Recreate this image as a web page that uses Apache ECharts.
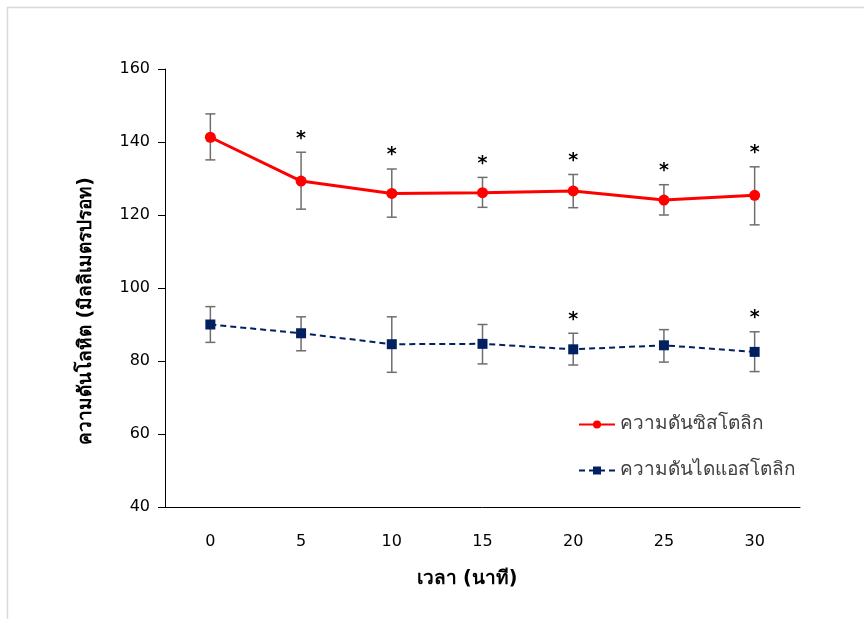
<!DOCTYPE html>
<html>
<head>
<meta charset="utf-8">
<script src="https://cdn.jsdelivr.net/npm/echarts@6/dist/echarts.min.js"></script>
<style>html,body{margin:0;padding:0;background:#fff}#c{width:864px;height:619px}</style>
</head>
<body>
<div id="c"></div>
<script>
const categories = ['0','5','10','15','20','25','30'];
const systolic = [141.3, 129.3, 125.9, 126.1, 126.6, 124.1, 125.4];
const systolicHigh = [147.7, 137.2, 132.6, 130.3, 131.1, 128.3, 133.2];
const systolicLow = [135.1, 121.6, 119.4, 122.1, 122.0, 120.0, 117.3];
const systolicSig = [0, 1, 1, 1, 1, 1, 1];
const diastolic = [90.0, 87.6, 84.6, 84.7, 83.2, 84.3, 82.5];
const diastolicHigh = [94.9, 92.1, 92.1, 90.0, 87.6, 88.6, 88.0];
const diastolicLow = [85.1, 82.8, 76.9, 79.2, 78.9, 79.7, 77.1];
const diastolicSig = [0, 0, 0, 0, 1, 0, 1];
const yTicks = [40, 60, 80, 100, 120, 140, 160];
const seriesNames = ['ความดันซิสโตลิก', 'ความดันไดแอสโตลิก'];
const xTitle = 'เวลา (นาที)';
const yTitle = 'ความดันโลหิต (มิลลิเมตรปรอท)';

const FONT = "'DejaVu Sans', Tahoma, 'Noto Sans', sans-serif";

function errData(high, low, sig) {
  return categories.map((c, i) => [i, low[i], high[i], sig[i]]);
}
function errRender(params, api) {
  const x = api.value(0);
  const lo = api.coord([x, api.value(1)]);
  const hi = api.coord([x, api.value(2)]);
  const cap = 5;
  const style = { stroke: '#6e6e6e', lineWidth: 1.5 };
  const children = [
    { type: 'line', shape: { x1: hi[0], y1: hi[1], x2: lo[0], y2: lo[1] }, style },
    { type: 'line', shape: { x1: hi[0] - cap, y1: hi[1], x2: hi[0] + cap, y2: hi[1] }, style },
    { type: 'line', shape: { x1: lo[0] - cap, y1: lo[1], x2: lo[0] + cap, y2: lo[1] }, style }
  ];
  if (api.value(3)) {
    children.push({ type: 'text', style: { text: '*', x: hi[0], y: hi[1] - 4, textAlign: 'center', textVerticalAlign: 'bottom', fontSize: 19, fontWeight: 'bold', fill: '#000', fontFamily: 'DejaVu Sans' } });
  }
  return { type: 'group', children };
}

const chart = echarts.init(document.getElementById('c'));
chart.setOption({
  backgroundColor: '#fff',
  animation: false,
  graphic: [
    { type: 'rect', shape: { x: 7.5, y: 7.5, width: 900, height: 700 }, style: { fill: 'none', stroke: '#d9d9d9', lineWidth: 1.5 }, silent: true },
    { type: 'text', x: 467, y: 579, style: { text: xTitle, textAlign: 'center', textVerticalAlign: 'middle', fontSize: 19, fontWeight: 'bold', fill: '#000', fontFamily: FONT } },
    { type: 'text', x: 86, y: 311, rotation: Math.PI / 2, style: { text: yTitle, textAlign: 'center', textVerticalAlign: 'middle', fontSize: 19, fontWeight: 'bold', fill: '#000', fontFamily: FONT } }
  ],
  grid: { left: 165, right: 64, top: 69, bottom: 112 },
  legend: {
    orient: 'vertical', left: 573, top: 410, itemGap: 27, itemWidth: 36, itemHeight: 10,
    textStyle: { fontSize: 19, color: '#404040', fontFamily: FONT },
    data: seriesNames
  },
  xAxis: {
    type: 'category', data: categories, boundaryGap: true,
    axisLine: { lineStyle: { color: '#000', width: 1 } },
    axisTick: { alignWithLabel: true, length: 6, lineStyle: { color: '#000' } },
    axisLabel: { fontSize: 16, color: '#000', margin: 27, fontFamily: FONT }
  },
  yAxis: {
    type: 'value', min: 40, max: 160, interval: 20,
    axisLine: { show: true, lineStyle: { color: '#000', width: 1 } },
    axisTick: { show: true, length: 7, lineStyle: { color: '#000' } },
    splitLine: { show: false },
    axisLabel: { fontSize: 16, color: '#000', margin: 15, fontFamily: FONT,
      formatter: v => yTicks.includes(v) ? String(v) : '' }
  },
  series: [
    { type: 'custom', renderItem: errRender, data: errData(systolicHigh, systolicLow, systolicSig), z: 1, silent: true },
    { type: 'custom', renderItem: errRender, data: errData(diastolicHigh, diastolicLow, diastolicSig), z: 1, silent: true },
    { name: seriesNames[0], type: 'line', data: systolic, symbol: 'circle', symbolSize: 11, z: 3,
      lineStyle: { color: '#ff0000', width: 3 }, itemStyle: { color: '#ff0000' } },
    { name: seriesNames[1], type: 'line', data: diastolic, symbol: 'rect', symbolSize: 10, z: 3,
      lineStyle: { color: '#002060', width: 2, type: [6, 4] }, itemStyle: { color: '#002060' } }
  ]
});
</script>
</body>
</html>
